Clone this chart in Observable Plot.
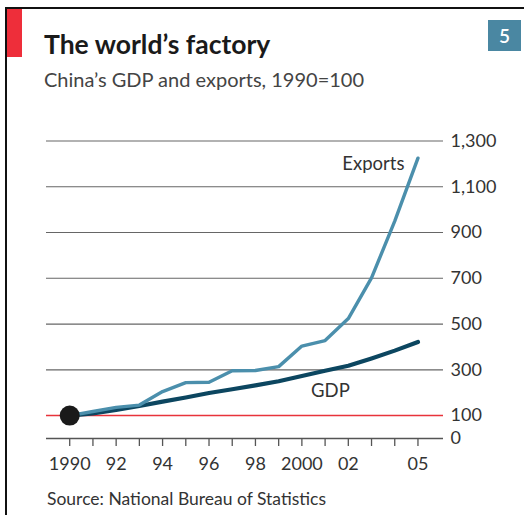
<!DOCTYPE html>
<html>
<head>
<meta charset="utf-8">
<script src="https://cdn.jsdelivr.net/npm/d3@7"></script>
<script src="https://cdn.jsdelivr.net/npm/@observablehq/plot@0.6"></script>
<style>
  html, body { margin: 0; padding: 0; background: #fff; }
  #frame { position: relative; width: 524px; height: 515px; overflow: hidden; font-family: Lato, "Open Sans", sans-serif; }
  .abs { position: absolute; white-space: nowrap; line-height: 1; }
  #borderTop { left: 5px; top: 7px; width: 519px; height: 2px; background: #111; }
  #borderLeft { left: 5px; top: 7px; width: 2px; height: 508px; background: #111; }
  #redbar { left: 7px; top: 9px; width: 15px; height: 48px; background: #ee2e3a; }
  #badge { left: 488px; top: 20px; width: 33px; height: 31px; background: #4a87a2; color: #fff; font-size: 19px; font-weight: 600; text-align: center; line-height: 31px; }
  #title { left: 44px; top: 31px; font-size: 26.5px; font-weight: bold; color: #1a1a1a; }
  #subtitle { left: 44px; top: 69px; font-size: 20px; color: #444; }
  #source { left: 47px; top: 490px; font-size: 17.5px; color: #333; }
  #chart { position: absolute; left: 0; top: 120px; }
</style>
</head>
<body>
<div id="frame">
  <div class="abs" id="borderTop"></div>
  <div class="abs" id="borderLeft"></div>
  <div class="abs" id="redbar"></div>
  <div class="abs" id="badge">5</div>
  <div class="abs" id="title">The world’s factory</div>
  <div class="abs" id="subtitle">China’s GDP and exports, 1990=100</div>
  <div id="chart"></div>
  <div class="abs" id="source">Source: National Bureau of Statistics</div>
</div>
<script>
const years = [1990,1991,1992,1993,1994,1995,1996,1997,1998,1999,2000,2001,2002,2003,2004,2005];
const exportsIdx = [100,118,136,146,205,244,246,296,297,314,404,428,524,702,950,1225];
const gdpIdx = [100,110,125,142,161,179,199,215,232,250,273,296,318,350,384,422];
const yTicks = [0,100,300,500,700,900,1100,1300];
const yTickLabels = ["0","100","300","500","700","900","1,100","1,300"];
const gridValues = [300,500,700,900,1100,1300];
const xLabelYears = [1990,1992,1994,1996,1998,2000,2002,2005];
const xLabelText = ["1990","92","94","96","98","2000","02","05"];

const exportsData = years.map((y, i) => ({year: y, value: exportsIdx[i]}));
const gdpData = years.map((y, i) => ({year: y, value: gdpIdx[i]}));

const chart = Plot.plot({
  width: 524,
  height: 360,
  marginTop: 20.5,
  marginBottom: 42,
  marginLeft: 46,
  marginRight: 81,
  style: {fontFamily: "Lato, 'Open Sans', sans-serif", fontSize: "18px", color: "#333", background: "transparent"},
  x: {domain: [1989, 2006.1], axis: null},
  y: {domain: [0, 1300], axis: null},
  marks: [
    Plot.ruleY(gridValues, {stroke: "#666", strokeWidth: 1.1}),
    Plot.ruleY([100], {stroke: "#e8333b", strokeWidth: 1.5}),
    Plot.ruleY([0], {stroke: "#555", strokeWidth: 1.3}),
    Plot.axisX({ticks: years, tickSize: 8, tickFormat: () => "", label: null, stroke: "#555", strokeWidth: 1.3}),
    Plot.axisX({ticks: xLabelYears, tickSize: 0, tickPadding: 19, label: null, tickFormat: d => xLabelText[xLabelYears.indexOf(d)], fill: "#333", fontSize: 18}),
    Plot.axisY({anchor: "right", ticks: yTicks, tickSize: 0, tickPadding: 7, label: null, tickFormat: d => yTickLabels[yTicks.indexOf(d)], fill: "#333", fontSize: 18, textAnchor: "start"}),
    Plot.line(gdpData, {x: "year", y: "value", stroke: "#0c4660", strokeWidth: 4.2, strokeLinecap: "round"}),
    Plot.line(exportsData, {x: "year", y: "value", stroke: "#4b8fac", strokeWidth: 3.4, strokeLinecap: "round", strokeLinejoin: "round"}),
    Plot.dot([{year: 1990, value: 100}], {x: "year", y: "value", r: 10, fill: "#1a1a1a"}),
    Plot.text([{year: 2004.42, value: 1200, label: "Exports"}], {x: "year", y: "value", text: "label", textAnchor: "end", fontSize: 18.5, fill: "#333"}),
    Plot.text([{year: 2001.23, value: 209, label: "GDP"}], {x: "year", y: "value", text: "label", textAnchor: "middle", fontSize: 18.5, fill: "#333"})
  ]
});
document.getElementById("chart").appendChild(chart);
</script>
</body>
</html>
